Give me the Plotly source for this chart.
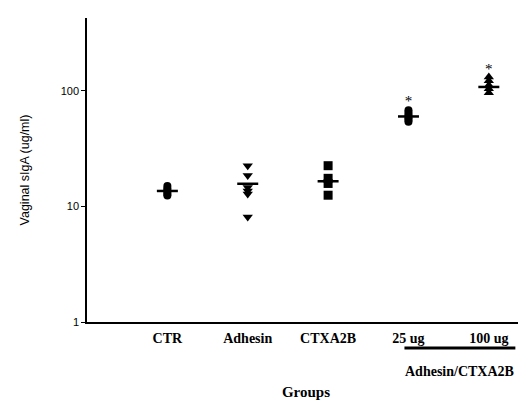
import plotly.graph_objects as go

categories = ["CTR", "Adhesin", "CTXA2B", "25 ug", "100 ug"]
ctr_vals = [15.0, 14.3, 13.8, 13.3, 12.8, 12.4]
adhesin_vals = [22.5, 18.5, 14.6, 13.6, 12.8, 8.1]
ctxa2b_vals = [22.5, 17.5, 15.8, 12.5]
ug25_vals = [68, 65, 62, 60, 58, 56, 54]
ug100_vals = [132, 122, 112, 104, 96]
means = [13.6, 15.7, 16.5, 60, 108]
star_y = [None, None, None, 80, 152]

group_data = [ctr_vals, adhesin_vals, ctxa2b_vals, ug25_vals, ug100_vals]
symbols = ["circle", "triangle-down", "square", "circle", "triangle-up"]
sizes = [8, 9, 9, 8, 9]
xpos = [1, 2, 3, 4, 5]

fig = go.Figure()
for i, vals in enumerate(group_data):
    fig.add_trace(go.Scatter(
        x=[xpos[i]] * len(vals), y=vals, mode="markers",
        marker=dict(symbol=symbols[i], size=sizes[i], color="black"),
        showlegend=False, hoverinfo="y"))

fig.add_trace(go.Scatter(
    x=xpos, y=means, mode="markers",
    marker=dict(symbol="line-ew", size=15, line=dict(width=2.5, color="black")),
    showlegend=False))

sx = [xpos[i] for i in range(5) if star_y[i] is not None]
sy = [v for v in star_y if v is not None]
fig.add_trace(go.Scatter(
    x=sx, y=sy, mode="text", text=["*"] * len(sx),
    textfont=dict(family="Liberation Serif", size=15, color="black"),
    showlegend=False))

# page body has an 8px margin: figure is sized/margined to land the plot area at the reference spot
fig.update_layout(
    width=518, height=397,
    margin=dict(l=79, r=1, t=10, b=83),
    paper_bgcolor="white", plot_bgcolor="white",
    font=dict(family="Liberation Sans", color="black"),
)
fig.update_xaxes(
    range=[0, 5.45], tickvals=xpos, ticktext=categories,
    showline=True, linecolor="black", linewidth=1.5,
    showgrid=False, zeroline=False, ticks="", automargin=False,
    ticklabelstandoff=2,
    tickfont=dict(family="Liberation Serif", size=14, color="black", weight="bold"),
    title=dict(text="<b>Groups</b>", font=dict(family="Liberation Serif", size=15, color="black"), standoff=42),
)
fig.update_yaxes(
    type="log", range=[0, 2.63], tickvals=[1, 10, 100], ticktext=["1", "10", "100"],
    showline=True, linecolor="black", linewidth=1.5, automargin=False,
    showgrid=False, zeroline=False, ticks="outside", ticklen=4, tickcolor="black",
    tickfont=dict(family="Liberation Sans", size=11, color="black"),
    title=dict(text="Vaginal sIgA (ug/ml)", font=dict(family="Liberation Sans", size=12.5, color="black"), standoff=28),
)

fig.add_shape(type="line", xref="x", yref="paper", x0=3.95, x1=5.33, y0=-0.0855, y1=-0.0855,
              line=dict(color="black", width=3))
fig.add_annotation(x=4.63, xref="x", y=-0.164, yref="paper", yanchor="middle",
                   text="<b>Adhesin/CTXA2B</b>", showarrow=False,
                   font=dict(family="Liberation Serif", size=14, color="black"))

fig.write_html("out.html")
